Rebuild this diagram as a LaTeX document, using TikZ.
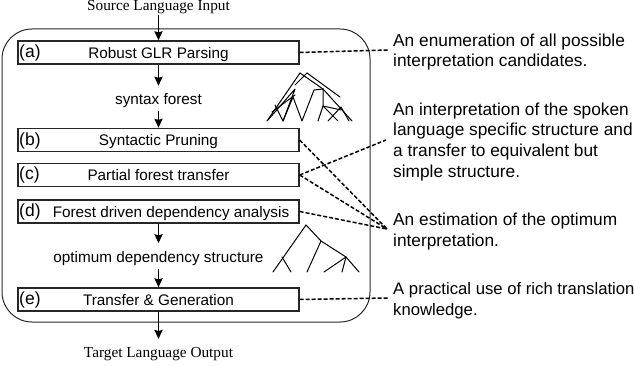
\documentclass[tikz,border=0pt]{standalone}
\usepackage{fontspec}
\setmainfont{Liberation Serif}
\setsansfont{Liberation Sans}
\usetikzlibrary{arrows.meta}
\tikzset{
  stagebox/.style={draw=black!85,line width=1.3pt,minimum width=281pt,minimum height=23pt,inner sep=0pt,text height=11.5pt,text depth=0pt,font=\sffamily\fontsize{15.3}{17}\selectfont,anchor=center},
  tag/.style={inner sep=0pt,anchor=west,font=\sffamily\fontsize{17.5}{19}\selectfont},
  datum/.style={inner sep=0pt,minimum height=25pt,text height=13pt,text depth=0pt,font=\sffamily\fontsize{15.3}{17}\selectfont},
  endlabel/.style={inner sep=0pt,text height=11pt,text depth=0pt,font=\rmfamily\fontsize{15.3}{17}\selectfont},
  flow/.style={line width=1.9pt,-{Stealth[length=9pt,width=8pt,inset=1pt]}},
  remark/.style={inner sep=0pt,anchor=north west,align=left,font=\sffamily\fontsize{17.3}{20.7}\selectfont},
  note/.style={line width=1.5pt,dash pattern=on 4pt off 2pt},
  twig/.style={line width=1pt,line cap=round,line join=round}
}
\begin{document}
\begin{tikzpicture}[x=1pt,y=-1pt]
\useasboundingbox (0,0) rectangle (634,366);
% enclosing frame
\node[draw=black!85,line width=1pt,rounded corners=30pt,minimum width=368pt,minimum height=293pt,inner sep=0pt] (frame) at (186,175.5) {};
% processing stages
\node[stagebox] (a) at (158.5,52.5) {Robust GLR Parsing};
\node[stagebox] (b) at (158.5,140) {Syntactic Pruning};
\node[stagebox] (c) at (158.5,175) {Partial forest transfer};
\node[stagebox] (d) at (158.5,211.5) {\hspace*{25pt}Forest driven dependency analysis};
\node[stagebox] (e) at (158.5,299.5) {Transfer \& Generation};
\node[tag] (ta) at (19,52.5) {(a)};
\node[tag] (tb) at (19,140.5) {(b)};
\node[tag] (tc) at (19,174.5) {(c)};
\node[tag] (td) at (19,211.5) {(d)};
\node[tag] (te) at (19,299.5) {(e)};
% intermediate results and end points
\node[datum] (forest) at (158.5,98.5) {syntax forest};
\node[datum] (dep) at (158.5,256) {optimum dependency structure};
\node[endlabel] (src) at (158.5,5.5) {Source Language Input};
\node[endlabel] (tgt) at (158.5,351.5) {Target Language Output};
\coordinate (srcout) at (158.5,15);
\coordinate (tgtin) at (158.5,339);
% main flow
\draw[flow] (srcout) -- (a.north);
\draw[flow] (a.south) -- (forest.north);
\draw[flow] (forest.south) -- (b.north);
\draw[flow] (d.south) -- (dep.north);
\draw[flow] (dep.south) -- (e.north);
\draw[flow] (e.south) -- (tgtin);
% commentary on the right
\node[remark] (n1) at (393,33.5) {An enumeration of all possible\\interpretation candidates.};
\node[remark] (n2) at (393,102.5) {An interpretation of the spoken\\language specific structure and\\a transfer to equivalent but\\simple structure.};
\node[remark] (n3) at (393,213) {An estimation of the optimum\\interpretation.};
\node[remark,font=\sffamily\fontsize{16.7}{20.7}\selectfont] (n4) at (393,282) {A practical use of rich translation\\knowledge.};
\coordinate (p1) at (388,50);
\coordinate (p2) at (386,140);
\coordinate (p3) at (387,229);
\coordinate (p4) at (388,298);
\draw[note] (a.east) -- (p1);
\draw[note] (b.east) -- (p3);
\draw[note] (c.east) -- (p2);
\draw[note] (c.east) -- (p3);
\draw[note] (d.east) -- (p3);
\draw[note] (e.east) -- (p4);
% packed forest sketch
\draw[twig] (300,73) -- (267,121);
\draw[twig] (307,73) -- (340,97);
\draw[twig] (307,73) -- (295,85);
\draw[twig] (300,73) -- (323,89) -- (352,121);
\draw[twig] (268,120) -- (295,89) -- (283,121) -- (275,105);
\draw[twig] (272,112) -- (295,95);
\draw[twig] (283,121) -- (293,97) -- (302,121) -- (314,90) -- (323,89);
\draw[twig] (323,89) -- (323,106) -- (318,121) -- (323,106) -- (338,121);
\draw[twig] (323,106) -- (341,110);
\draw[twig] (328,121) -- (341,107) -- (349,121);
% dependency tree sketch
\draw[twig] (306,225) -- (273,272);
\draw[twig] (306,225) -- (321,241) -- (346,257) -- (359,272);
\draw[twig] (321,241) -- (307,272);
\draw[twig] (282,257) -- (291,272);
\draw[twig] (346,257) -- (324,272);
\draw[twig] (346,257) -- (342,272);
\end{tikzpicture}
\end{document}
